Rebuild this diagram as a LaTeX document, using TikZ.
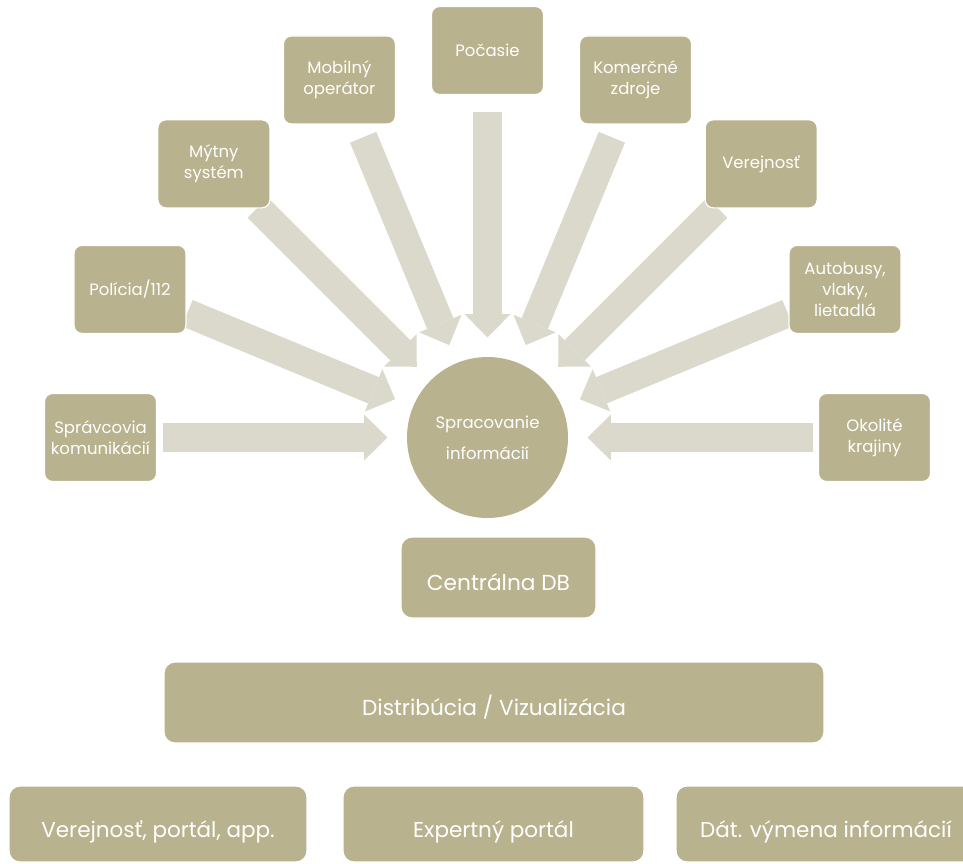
\documentclass[tikz,border=0pt]{standalone}
\usepackage{fontspec}
\setmainfont{Poppins}
\usetikzlibrary{arrows.meta,calc,backgrounds}
\definecolor{boxc}{RGB}{184,178,142}
\definecolor{arrc}{RGB}{218,217,204}
\begin{document}
\begin{tikzpicture}[x=1pt,y=-1pt,
  src/.style={rectangle, rounded corners=8pt, fill=boxc, draw=white, line width=1.2pt,
    minimum width=112pt, minimum height=88pt, text=white, align=center,
    font=\fontsize{16.5}{21}\selectfont, inner sep=2pt},
  bigbox/.style={rectangle, rounded corners=11pt, fill=boxc, draw=white, line width=1.2pt,
    text=white, font=\fontsize{21.7}{26}\selectfont, inner sep=0pt,
    text height=26pt, text depth=0pt},
  outbox/.style={bigbox, minimum height=76pt, font=\fontsize{21.5}{26}\selectfont},
  hub/.style={circle, fill=boxc, minimum size=161pt, inner sep=0pt, text=white,
    align=center, font=\fontsize{16.5}{31}\selectfont},
  flow/.style={draw=arrc, line width=28.4pt,
    -{Triangle[length=23.3pt,width=45.8pt,line width=0pt]}}
]
\useasboundingbox (0,0) rectangle (963,864);
\clip (0,0) rectangle (963,864);
\coordinate (C) at (487.5,437.5);
\node[hub] (cen) at (C) {Spracovanie\\informácií};

\node[src] (b1) at ($(C)+(180:387pt)$) {Správcovia\\komunikácií};
\node[src] (b2) at ($(C)+(157.5:387pt)$) {Polícia/112};
\node[src] (b3) at ($(C)+(135:387pt)$) {Mýtny\\systém};
\node[src] (b4) at ($(C)+(112.5:387pt)$) {Mobilný\\operátor};
\node[src] (b5) at ($(C)+(90:387pt)$) {Počasie};
\node[src] (b6) at ($(C)+(67.5:387pt)$) {Komerčné\\zdroje};
\node[src] (b7) at ($(C)+(45:387pt)$) {Verejnosť};
\node[src] (b8) at ($(C)+(22.5:387pt)$) {Autobusy,\\vlaky,\\lietadlá};
\node[src] (b9) at ($(C)+(0:387pt)$) {Okolité\\krajiny};

\begin{scope}[on background layer]
\foreach \b in {b1,b2,b3,b4,b5,b6,b7,b8,b9}
  \draw[flow] ($(cen.center)!0.8398!(\b.center)$) -- ($(cen.center)!0.2584!(\b.center)$);
\end{scope}

\node[bigbox, minimum width=195pt, minimum height=81pt] (db) at (498.5,577.5) {Centrálna DB};
\node[bigbox, minimum width=660pt, minimum height=81pt] (dist) at (494,702.5) {Distribúcia / Vizualizácia};
\node[outbox, minimum width=298pt] (o1) at (158,824) {Verejnosť, portál, app.};
\node[outbox, minimum width=301pt] (o2) at (493.5,824) {Expertný portál};
\node[outbox, minimum width=300pt] (o3) at (826,824) {Dát. výmena informácií};
\end{tikzpicture}
\end{document}
